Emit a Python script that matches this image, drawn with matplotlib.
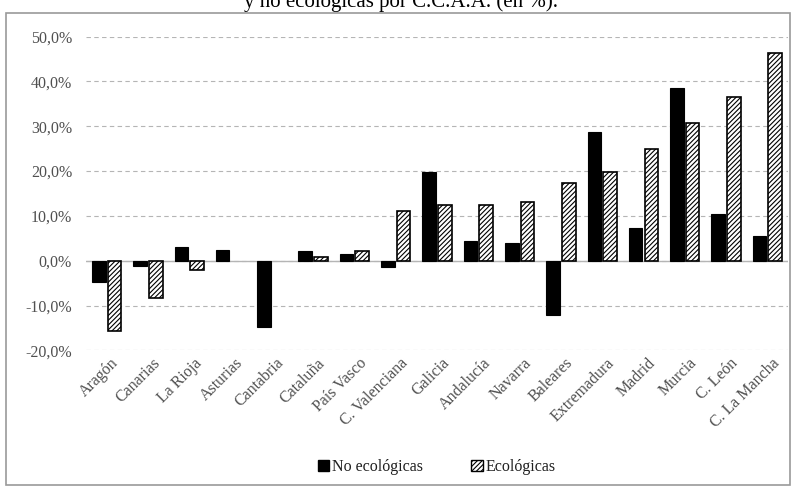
import numpy as np
import matplotlib.pyplot as plt
from matplotlib.patches import Rectangle
from matplotlib.ticker import FuncFormatter

regiones = ["Aragón", "Canarias", "La Rioja", "Asturias", "Cantabria", "Cataluña",
            "País Vasco", "C. Valenciana", "Galicia", "Andalucía", "Navarra", "Baleares",
            "Extremadura", "Madrid", "Murcia", "C. León", "C. La Mancha"]
no_ecologicas = [-4.7, -1.2, 3.0, 2.5, -14.9, 2.2, 1.4, -1.5, 19.7, 4.4, 3.9, -12.2,
                 28.8, 7.3, 38.6, 10.4, 5.5]
ecologicas = [-15.8, -8.4, -2.1, 0.0, 0.0, 0.9, 2.2, 11.2, 12.5, 12.5, 13.0, 17.3,
              19.8, 24.9, 30.7, 36.5, 46.3]
yticks = [-20, -10, 0, 10, 20, 30, 40, 50]

plt.rcParams['font.family'] = ['Liberation Serif', 'DejaVu Serif']
plt.rcParams['hatch.linewidth'] = 0.8

fig = plt.figure(figsize=(8.03, 4.90), dpi=100)
ax = fig.add_axes([86/803, 1 - 350.3/490, (788-86)/803, (350.3-36.7)/490])

x = np.arange(len(regiones))
w = 0.33
# sin borde cuando el valor es cero, para que no quede una raya suelta
lw_no = [0 if v == 0 else 0.8 for v in no_ecologicas]
lw_eco = [0 if v == 0 else 1.2 for v in ecologicas]
ax.bar(x - 0.19, no_ecologicas, w, color='black', edgecolor='black', linewidth=lw_no,
       label='No ecológicas', zorder=3)
ax.bar(x + 0.19, ecologicas, w, color='white', edgecolor='black', linewidth=lw_eco,
       hatch='///////', label='Ecológicas', zorder=3)

ax.set_xlim(-0.5, len(regiones) - 0.5)
ax.set_ylim(-20, 50)
ax.set_yticks(yticks)
ax.yaxis.set_major_formatter(FuncFormatter(lambda v, p: f"{v:.1f}%".replace('.', ',')))
ax.grid(axis='y', linestyle=(0, (4, 3)), color='#b5b5b5', linewidth=0.8, zorder=0)
ax.axhline(0, color='#b5b5b5', linewidth=1, zorder=2)
for s in ax.spines.values():
    s.set_visible(False)
ax.tick_params(axis='both', length=0, labelsize=11.5, colors='#505050')
ax.tick_params(axis='y', pad=10)
ax.set_xticks(x + 0.1)
ax.set_xticklabels(regiones, rotation=45, ha='right', va='top', rotation_mode='anchor')

leg = ax.legend(loc='upper center', bbox_to_anchor=(0.5, -0.30), ncol=2, frameon=False,
                fontsize=11.5, handlelength=0.7, handleheight=0.7, handletextpad=0.2,
                columnspacing=3.0, labelcolor='#202020')
for h in leg.legend_handles:
    h.set_linewidth(1.0)

fig.text(0.5, 1 - 7/490, "y no ecológicas por C.C.A.A. (en %).", ha='center',
         va='baseline', fontsize=15, color='black')

fig.patches.append(Rectangle((6/803, 1 - 485/490), (790-6)/803, (485-13)/490,
                             transform=fig.transFigure, fill=False,
                             edgecolor='#9a9a9a', linewidth=1.2))

fig.savefig("out.png", dpi=100)
